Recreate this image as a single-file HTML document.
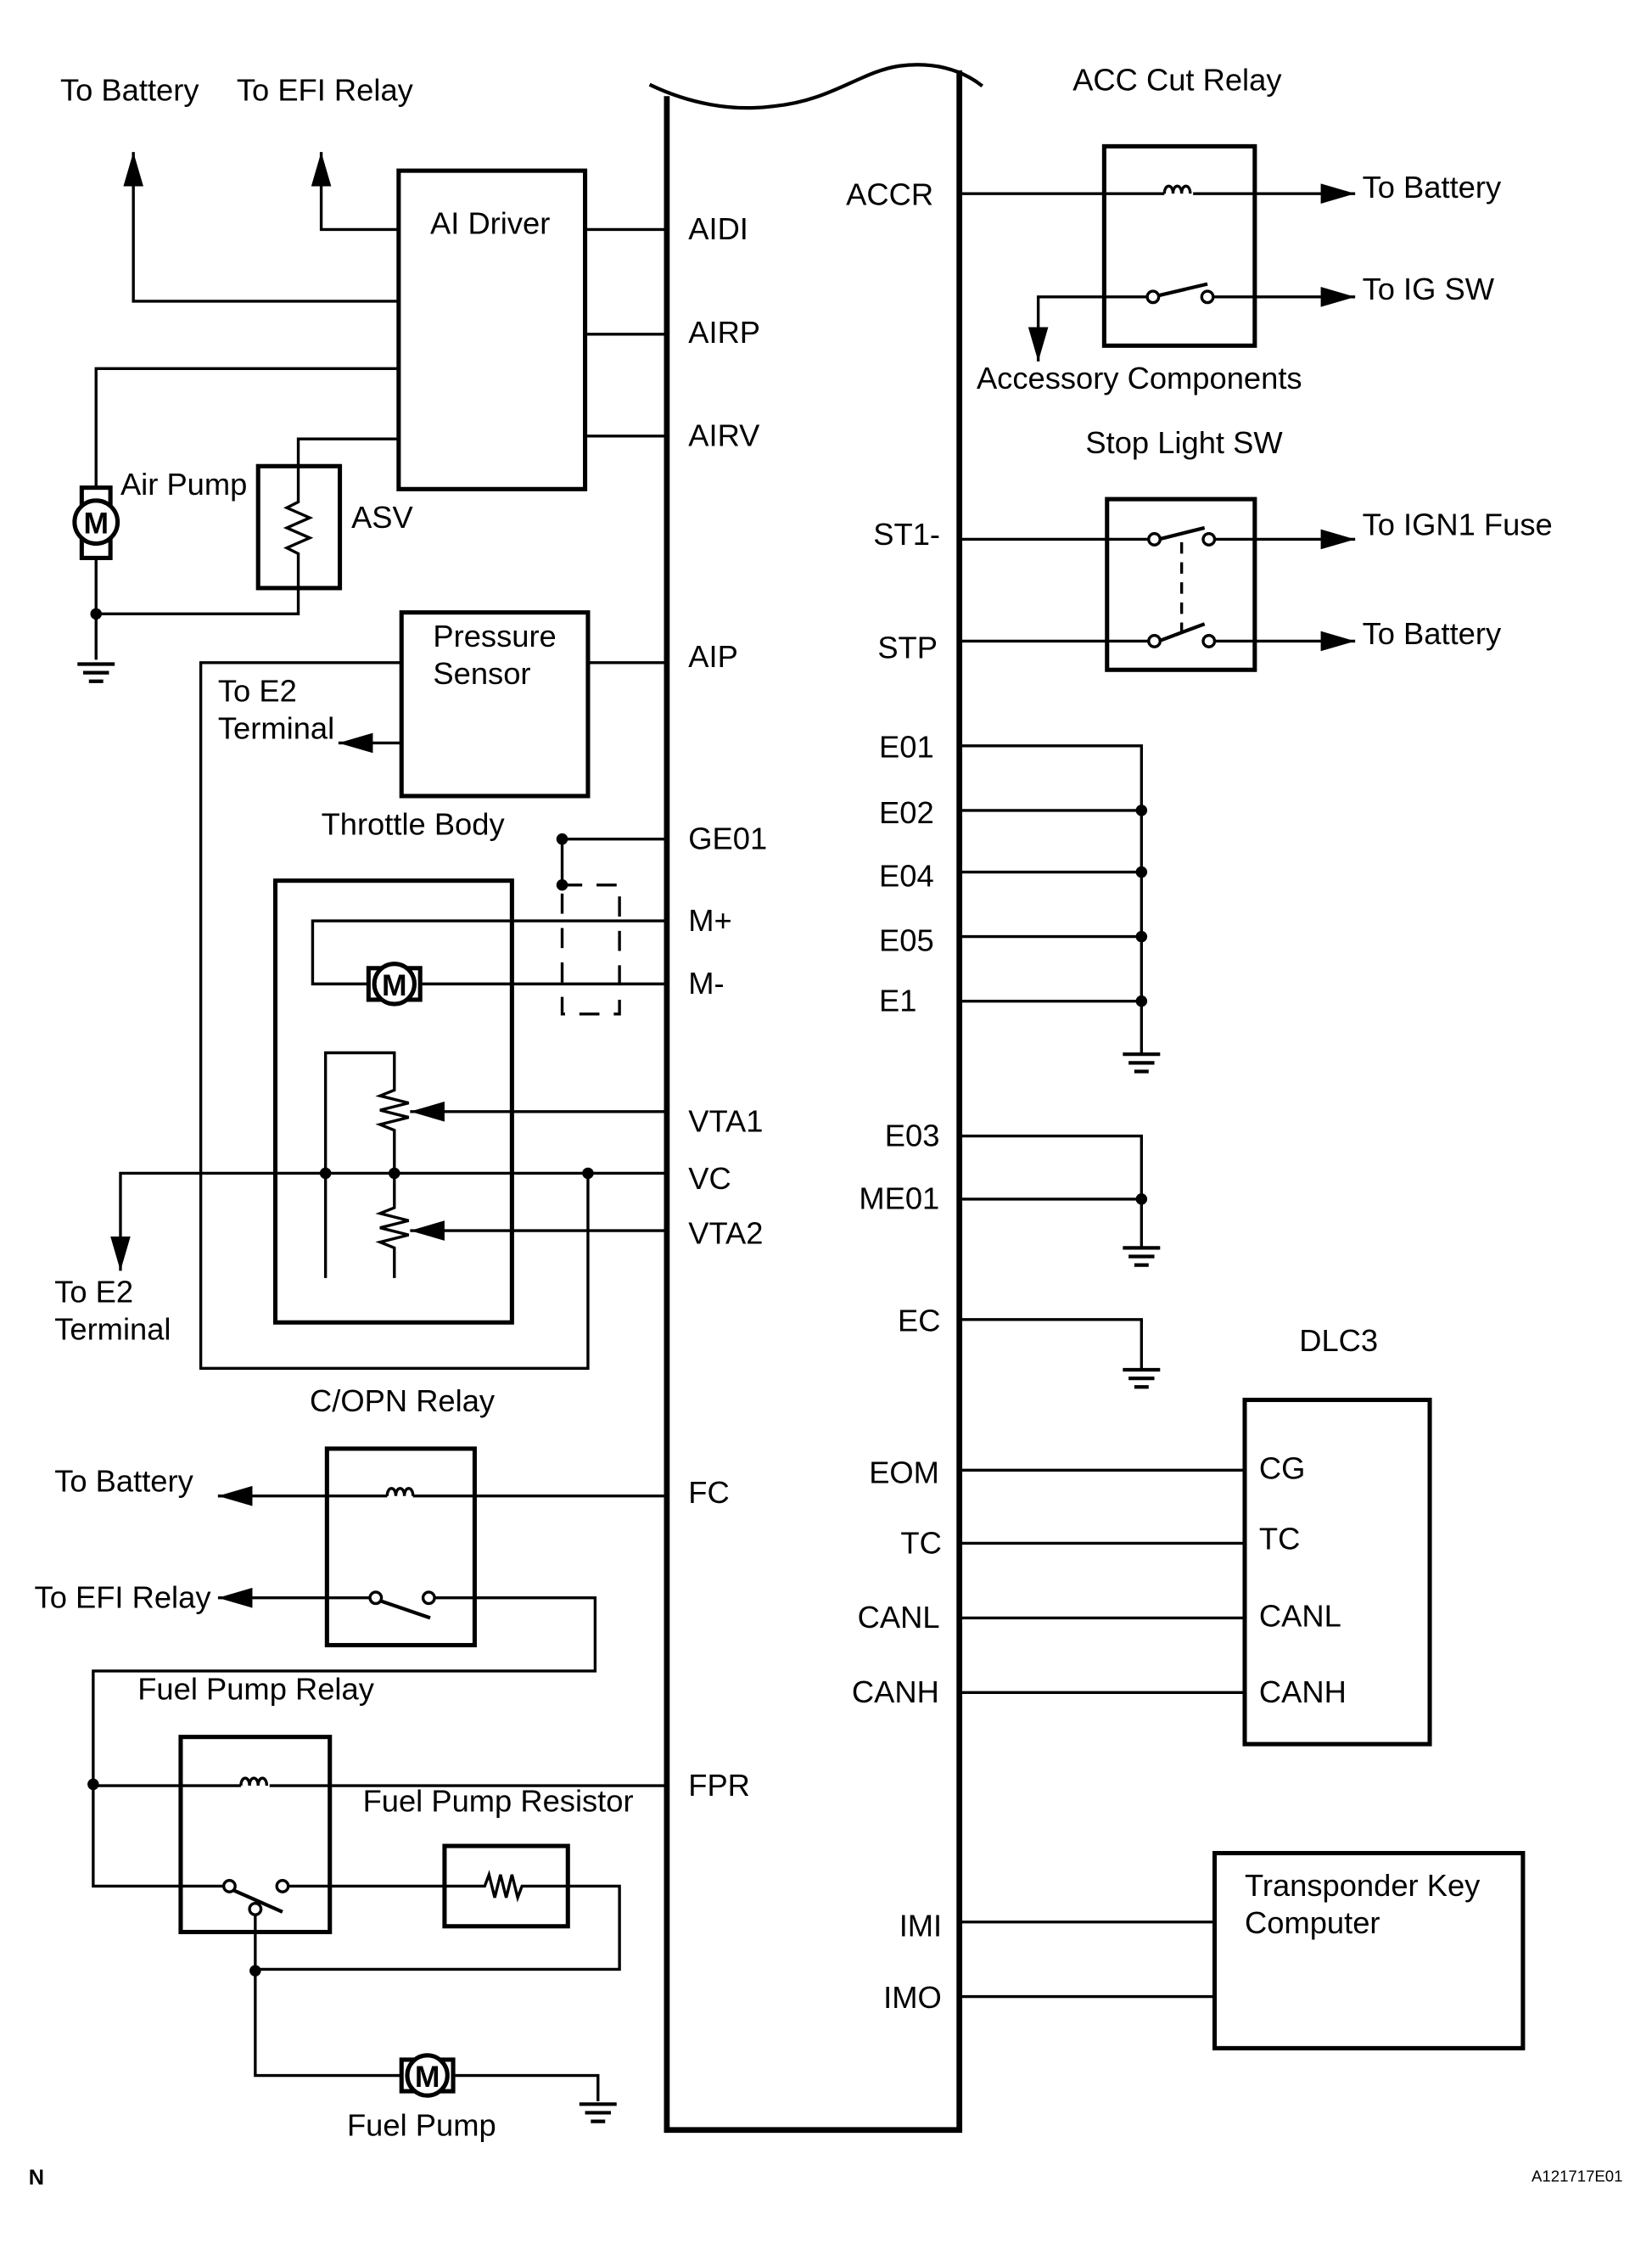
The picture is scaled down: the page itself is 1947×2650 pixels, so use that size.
<!DOCTYPE html>
<html><head><meta charset="utf-8"><style>
html,body{margin:0;padding:0;background:#fff;}
svg{display:block;}
text{font-family:"Liberation Sans",sans-serif;font-size:21.5px;fill:#000;}
</style></head><body>
<svg width="1947" height="2650" viewBox="0 0 1152 1568" preserveAspectRatio="none" xmlns="http://www.w3.org/2000/svg">
<defs>
<marker id="ar" markerUnits="userSpaceOnUse" markerWidth="26" markerHeight="14" refX="24" refY="7" orient="auto">
<path d="M0,0 L24,7 L0,14 z" fill="#000"/></marker>
</defs>
<g fill="none" stroke="#000" stroke-width="2">
<path d="M453,59 C480,72 510,78 540,74 C580,70 600,50 627,46 C650,43 670,48 685,60" stroke-width="2.5"/>
<path d="M465,67 V1485 H669 V49" stroke-width="4"/>

<path d="M278,210 H93 V106" marker-end="url(#ar)"/>
<path d="M278,160 H224 V106" marker-end="url(#ar)"/>
<rect x="278" y="119" width="130" height="222" stroke-width="3"/>
<path d="M408,160 H465 M408,233 H465 M408,304 H465"/>
<path d="M278,257 H67 V340 M67,389 V460"/>
<path d="M278,306 H208 V350 l-8,4 l16,7 l-16,7 l16,7 l-16,7 l8,4 V428 H67"/>
<rect x="180" y="325" width="57" height="85" stroke-width="3"/>
<rect x="57" y="340" width="20" height="49" stroke-width="3"/>
<circle cx="67" cy="364" r="15" fill="#fff" stroke-width="3"/>
<path d="M54,463 H80 M58,469 H76 M62,475 H72" stroke-width="2.5"/>

<rect x="280" y="427" width="130" height="128" stroke-width="3"/>
<path d="M410,462 H465"/>
<path d="M280,462 H140 V954 H410 V818"/>
<path d="M280,518 H236" marker-end="url(#ar)"/>

<rect x="192" y="614" width="165" height="308" stroke-width="3"/>
<path d="M465,585 H392 V617"/>
<rect x="392" y="617" width="40" height="90" stroke-dasharray="14,10"/>
<path d="M465,642 H218 V686 H257 M293,686 H465"/>
<rect x="257" y="675" width="36" height="22" stroke-width="3"/>
<circle cx="275" cy="686" r="14" fill="#fff" stroke-width="3"/>
<path d="M227,891 V734 H275 V760 l-10,4 l20,5 l-20,5 l20,5 l-20,5 l10,4 V842 l-10,4 l20,5 l-20,5 l20,5 l-20,5 l10,4 V891"/>
<path d="M465,775 H286" marker-end="url(#ar)"/>
<path d="M465,858 H286" marker-end="url(#ar)"/>
<path d="M465,818 H84 V886" marker-end="url(#ar)"/>

<rect x="228" y="1010" width="103" height="137" stroke-width="3"/>
<path d="M465,1043 H288 M270,1043 H152" />
<path d="M160,1043 H152" marker-end="url(#ar)"/>
<path d="M262,1114 H152" marker-end="url(#ar)"/>
<path d="M299,1114 H415 V1165 H65 V1315 H156"/>
<path d="M265,1116 L300,1128" stroke-width="2.5"/>

<rect x="126" y="1211" width="104" height="136" stroke-width="3"/>
<path d="M465,1245 H188 M168,1245 H65"/>
<path d="M201,1315 H310 M396,1315 H432 V1373 H178 M178,1335 V1447 H280 M316,1447 H417 V1465"/>
<path d="M163,1318 L197,1333" stroke-width="2.5"/>
<rect x="310" y="1287" width="86" height="56" stroke-width="3"/>
<path d="M310,1315 H338 l3,-8 l4,16 l4,-16 l4,16 l4,-16 l4,16 l3,-8 H396"/>
<rect x="280" y="1436" width="36" height="22" stroke-width="3"/>
<circle cx="298" cy="1447" r="14" fill="#fff" stroke-width="3"/>
<path d="M404,1467 H430 M408,1473 H426 M412,1479 H422" stroke-width="2.5"/>

<rect x="770" y="102" width="105" height="139" stroke-width="3"/>
<path d="M669,135 H812 M832,135 H945" marker-end="url(#ar)"/>
<path d="M800,207 H724 V252" marker-end="url(#ar)"/>
<path d="M846,207 H945" marker-end="url(#ar)"/>
<path d="M808,206 L842,198" stroke-width="2.5"/>

<rect x="772" y="348" width="103" height="119" stroke-width="3"/>
<path d="M669,376 H801 M847,376 H945" marker-end="url(#ar)"/>
<path d="M669,447 H801 M847,447 H945" marker-end="url(#ar)"/>
<path d="M808,376 L840,368 M808,447 L840,435" stroke-width="2.5"/>
<path d="M824,378 V440" stroke-dasharray="8,6"/>

<path d="M669,520 H796 V735 M669,565 H796 M669,608 H796 M669,653 H796 M669,698 H796"/>
<path d="M783,735 H809 M787,741 H805 M791,747 H801" stroke-width="2.5"/>
<path d="M669,792 H796 V870 M669,836 H796"/>
<path d="M783,870 H809 M787,876 H805 M791,882 H801" stroke-width="2.5"/>
<path d="M669,920 H796 V955"/>
<path d="M783,955 H809 M787,961 H805 M791,967 H801" stroke-width="2.5"/>

<rect x="868" y="976" width="129" height="240" stroke-width="3"/>
<path d="M669,1025 H868 M669,1076 H868 M669,1128 H868 M669,1180 H868"/>
<rect x="847" y="1292" width="215" height="136" stroke-width="3"/>
<path d="M669,1340 H847 M669,1392 H847"/>
</g>

<g fill="none" stroke="#000" stroke-width="2">
<path d="M812,135 c0,-7 6,-7 6,0 c0,-7 6,-7 6,0 c0,-7 6,-7 6,0"/>
<path d="M270,1043 c0,-7 6,-7 6,0 c0,-7 6,-7 6,0 c0,-7 6,-7 6,0"/>
<path d="M168,1245 c0,-7 6,-7 6,0 c0,-7 6,-7 6,0 c0,-7 6,-7 6,0"/>
</g>
<g fill="#fff" stroke="#000" stroke-width="2">
<circle cx="804" cy="207" r="4"/><circle cx="842" cy="207" r="4"/>
<circle cx="805" cy="376" r="4"/><circle cx="843" cy="376" r="4"/>
<circle cx="805" cy="447" r="4"/><circle cx="843" cy="447" r="4"/>
<circle cx="262" cy="1114" r="4"/><circle cx="299" cy="1114" r="4"/>
<circle cx="160" cy="1315" r="4"/><circle cx="197" cy="1315" r="4"/><circle cx="178" cy="1331" r="4"/>
</g>
<g fill="#000">
<circle cx="67" cy="428" r="4"/>
<circle cx="392" cy="585" r="4"/><circle cx="392" cy="617" r="4"/>
<circle cx="227" cy="818" r="4"/><circle cx="275" cy="818" r="4"/><circle cx="410" cy="818" r="4"/>
<circle cx="796" cy="565" r="4"/><circle cx="796" cy="608" r="4"/><circle cx="796" cy="653" r="4"/><circle cx="796" cy="698" r="4"/>
<circle cx="796" cy="836" r="4"/>
<circle cx="65" cy="1244" r="4"/><circle cx="178" cy="1374" r="4"/>
</g>
<text x="67" y="372" text-anchor="middle" style="font-size:21px;font-weight:bold">M</text>
<text x="275" y="694" text-anchor="middle" style="font-size:21px;font-weight:bold">M</text>
<text x="298" y="1455" text-anchor="middle" style="font-size:21px;font-weight:bold">M</text>

<text x="42" y="70">To Battery</text>
<text x="165" y="70">To EFI Relay</text>
<text x="300" y="163">AI Driver</text>
<text x="84" y="345">Air Pump</text>
<text x="245" y="368">ASV</text>
<text x="302" y="451">Pressure</text>
<text x="302" y="477">Sensor</text>
<text x="152" y="489">To E2</text>
<text x="152" y="515">Terminal</text>
<text x="224" y="582">Throttle Body</text>
<text x="38" y="908">To E2</text>
<text x="38" y="934">Terminal</text>
<text x="216" y="984">C/OPN Relay</text>
<text x="38" y="1040">To Battery</text>
<text x="24" y="1121">To EFI Relay</text>
<text x="96" y="1185">Fuel Pump Relay</text>
<text x="253" y="1263">Fuel Pump Resistor</text>
<text x="242" y="1489">Fuel Pump</text>

<text x="480" y="167">AIDI</text>
<text x="480" y="239">AIRP</text>
<text x="480" y="311">AIRV</text>
<text x="480" y="465">AIP</text>
<text x="480" y="592">GE01</text>
<text x="480" y="649">M+</text>
<text x="480" y="693">M-</text>
<text x="480" y="789">VTA1</text>
<text x="480" y="829">VC</text>
<text x="480" y="867">VTA2</text>
<text x="480" y="1048">FC</text>
<text x="480" y="1252">FPR</text>

<text x="590" y="143">ACCR</text>
<text x="609" y="380">ST1-</text>
<text x="612" y="459">STP</text>
<text x="613" y="528">E01</text>
<text x="613" y="574">E02</text>
<text x="613" y="618">E04</text>
<text x="613" y="663">E05</text>
<text x="613" y="705">E1</text>
<text x="617" y="799">E03</text>
<text x="599" y="843">ME01</text>
<text x="626" y="928">EC</text>
<text x="606" y="1034">EOM</text>
<text x="628" y="1083">TC</text>
<text x="598" y="1135">CANL</text>
<text x="594" y="1187">CANH</text>
<text x="627" y="1350">IMI</text>
<text x="616" y="1400">IMO</text>

<text x="748" y="63">ACC Cut Relay</text>
<text x="950" y="138">To Battery</text>
<text x="950" y="209">To IG SW</text>
<text x="681" y="271">Accessory Components</text>
<text x="757" y="316">Stop Light SW</text>
<text x="950" y="373">To IGN1 Fuse</text>
<text x="950" y="449">To Battery</text>
<text x="906" y="942">DLC3</text>
<text x="878" y="1031">CG</text>
<text x="878" y="1080">TC</text>
<text x="878" y="1134">CANL</text>
<text x="878" y="1187">CANH</text>
<text x="868" y="1322">Transponder Key</text>
<text x="868" y="1348">Computer</text>

<text x="20" y="1523" style="font-size:15px;font-weight:bold">N</text>
<text x="1068" y="1521" style="font-size:11px">A121717E01</text>
</svg>
</body></html>
